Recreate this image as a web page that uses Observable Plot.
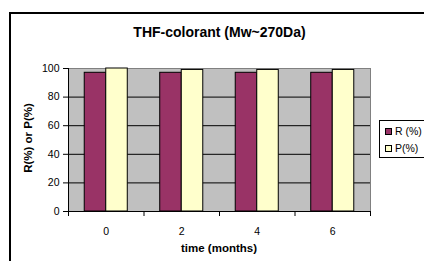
<!DOCTYPE html>
<html>
<head>
<meta charset="utf-8">
<script src="https://cdn.jsdelivr.net/npm/d3@7"></script>
<script src="https://cdn.jsdelivr.net/npm/@observablehq/plot@0.6"></script>
<style>
  html, body { margin: 0; padding: 0; background: #fff; overflow: hidden; }
  #wrap { position: relative; width: 424px; height: 261px; overflow: hidden; font-family: "Liberation Sans", Arial, sans-serif; }
  #border { position: absolute; left: 9px; top: 12px; width: 440px; height: 270px; border: 2px solid #000; box-sizing: border-box; }
  .lbl { position: absolute; transform: translate(-50%, -50%); white-space: nowrap; line-height: 1; font-weight: bold; color: #000; }
  #legend { position: absolute; left: 379px; top: 120px; width: 60px; height: 38px; border: 1px solid #000; box-sizing: border-box; background: #fff; font-size: 10.5px; }
  .item { position: absolute; left: 5px; display: flex; align-items: center; }
  .sw { width: 5px; height: 5px; border: 1px solid #000; margin-right: 3px; }
  #chart { position: absolute; left: 0; top: 0; }
</style>
</head>
<body>
<div id="wrap">
  <div id="border"></div>
  <div id="chart"></div>
  <div class="lbl" id="title" style="left:219.5px; top:32px; font-size:14px;"></div>
  <div class="lbl" id="ylab" style="left:29px; top:137.5px; font-size:11.5px; transform: translate(-50%,-50%) rotate(-90deg);"></div>
  <div class="lbl" id="xlab" style="left:219px; top:249px; font-size:11.5px;"></div>
  <div id="legend"></div>
</div>
<script>
// ---- data ----
const title = "THF-colorant (Mw~270Da)";
const xTitle = "time (months)";
const yTitle = "R(%) or P(%)";
const time = [0, 2, 4, 6];
const seriesNames = ["R (%)", "P(%)"];
const R = [97, 97, 97, 97];
const P = [100, 99, 99, 99];
const yTicks = [0, 20, 40, 60, 80, 100];
const colors = ["#993366", "#FFFFCC"];

// ---- layout ----
const W = 424, H = 261;
const mTop = 68, mBottom = 50, mLeft = 68, mRight = 54;
const frameH = H - mTop - mBottom;
const half = 1;            // half of category width in x units
const barW = 0.57;         // bar width in x units

const rows = time.map((t, i) => ({time: t, R: R[i], P: P[i]}));
const edges = time.map(t => t - half).concat([time[time.length - 1] + half]);

const chart = Plot.plot({
  width: W,
  height: H,
  marginTop: mTop,
  marginBottom: mBottom,
  marginLeft: mLeft,
  marginRight: mRight,
  style: {background: "transparent", fontFamily: "'Liberation Sans', Arial, sans-serif", fontSize: "10.5px", color: "#000"},
  x: {domain: [time[0] - half, time[time.length - 1] + half], ticks: time, tickSize: 0, tickPadding: 16, tickFormat: d => String(d), label: null},
  y: {domain: [yTicks[0], yTicks[yTicks.length - 1]], ticks: yTicks, tickSize: 5, tickPadding: 4, label: null},
  marks: [
    Plot.frame({fill: "#C0C0C0", stroke: "#808080"}),
    Plot.ruleY(yTicks.slice(1, -1), {stroke: "#000"}),
    Plot.rectY(rows, {x1: d => d.time - barW, x2: d => d.time, y: "R", fill: colors[0], stroke: "#000", strokeWidth: 1}),
    Plot.rectY(rows, {x1: d => d.time, x2: d => d.time + barW, y: "P", fill: colors[1], stroke: "#000", strokeWidth: 1}),
    Plot.ruleY([yTicks[0]], {stroke: "#000"}),
    Plot.ruleX([time[0] - half], {stroke: "#000"}),
    Plot.ruleX(edges, {stroke: "#000", insetTop: frameH, insetBottom: -5})
  ]
});
document.getElementById("chart").appendChild(chart);

document.getElementById("title").textContent = title;
document.getElementById("xlab").textContent = xTitle;
document.getElementById("ylab").textContent = yTitle;

const legend = document.getElementById("legend");
seriesNames.forEach((name, i) => {
  const it = document.createElement("div");
  it.className = "item";
  it.style.top = (i === 0 ? 4 : 21) + "px";
  const sw = document.createElement("div");
  sw.className = "sw";
  sw.style.background = colors[i];
  const tx = document.createElement("span");
  tx.textContent = name;
  it.appendChild(sw);
  it.appendChild(tx);
  legend.appendChild(it);
});
</script>
</body>
</html>
